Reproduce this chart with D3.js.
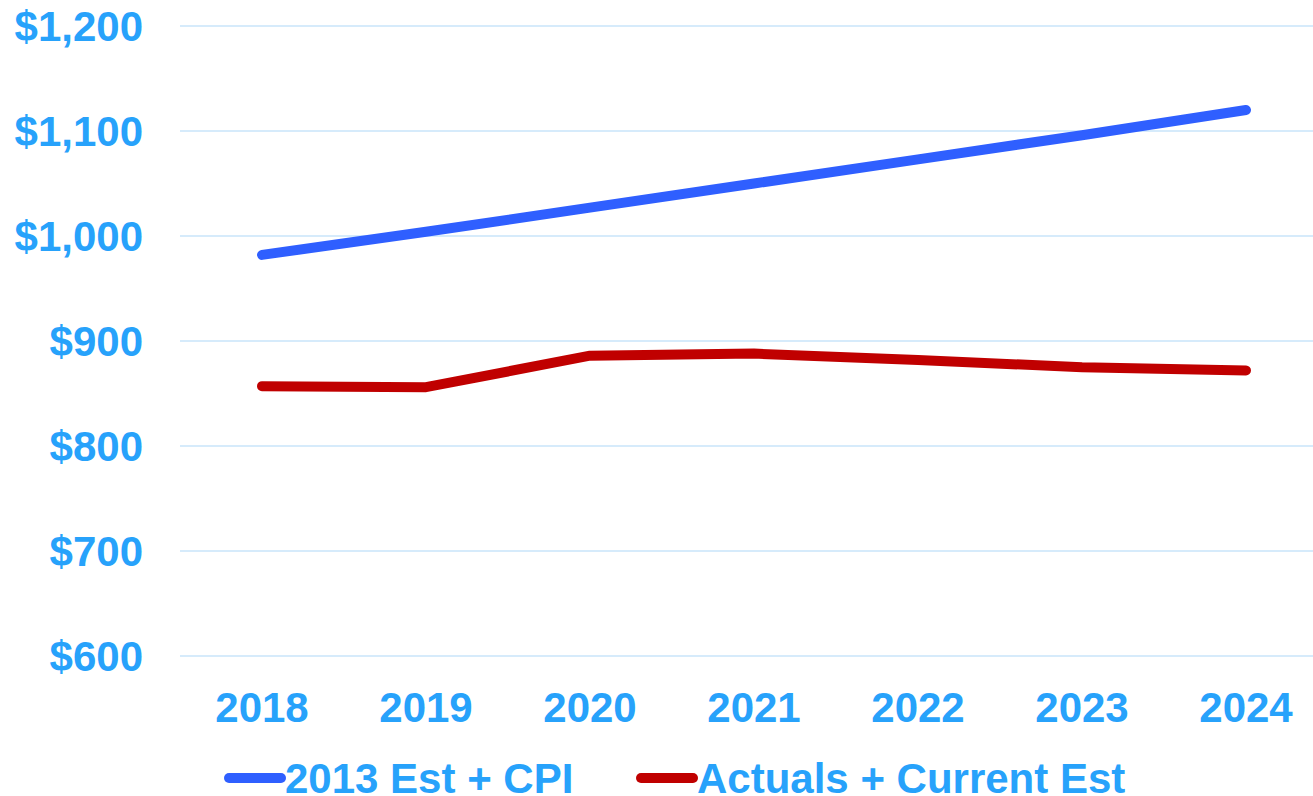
<!DOCTYPE html>
<html>
<head>
<meta charset="utf-8">
<script src="https://cdn.jsdelivr.net/npm/d3@7"></script>
<style>
  html, body { margin: 0; padding: 0; background: #fff; }
  svg { display: block; font-family: "Liberation Sans", Arial, sans-serif; font-weight: bold; }
</style>
</head>
<body>
<div id="chart"></div>
<script>
const years = ["2018", "2019", "2020", "2021", "2022", "2023", "2024"];
const estCpi = [982, 1004, 1027, 1050, 1073, 1096, 1120];
const actuals = [857, 856, 886, 888, 882, 875, 872];
const yTicks = [600, 700, 800, 900, 1000, 1100, 1200];
const seriesNames = ["2013 Est + CPI", "Actuals + Current Est"];

const width = 1313, height = 796;
const textColor = "#27a2fb";

const svg = d3.select("#chart").append("svg")
    .attr("width", width)
    .attr("height", height);

const x = d3.scalePoint().domain(years).range([180, 1328]).padding(0.5);
const y = d3.scaleLinear().domain([600, 1200]).range([656, 26]);

// gridlines
svg.append("g")
    .selectAll("line")
    .data(yTicks)
    .join("line")
    .attr("x1", 180).attr("x2", width)
    .attr("y1", d => y(d)).attr("y2", d => y(d))
    .attr("stroke", "#d6ebfb")
    .attr("stroke-width", 2);

// y labels
const fmt = d3.format(",");
svg.append("g")
    .selectAll("text")
    .data(yTicks)
    .join("text")
    .attr("x", 143)
    .attr("y", d => y(d))
    .attr("dy", "0.36em")
    .attr("text-anchor", "end")
    .attr("fill", textColor)
    .style("font-size", "42px")
    .text(d => "$" + fmt(d));

// x labels
svg.append("g")
    .selectAll("text")
    .data(years)
    .join("text")
    .attr("x", d => x(d))
    .attr("y", 722)
    .attr("text-anchor", "middle")
    .attr("fill", textColor)
    .style("font-size", "42px")
    .text(d => d);

const line = d3.line()
    .x((d, i) => x(years[i]))
    .y(d => y(d));

const series = [
    { name: seriesNames[0], values: estCpi, color: "#2f5fff" },
    { name: seriesNames[1], values: actuals, color: "#c00000" }
];

svg.append("g")
    .selectAll("path")
    .data(series)
    .join("path")
    .attr("d", d => line(d.values))
    .attr("fill", "none")
    .attr("stroke", d => d.color)
    .attr("stroke-width", 10)
    .attr("stroke-linecap", "round")
    .attr("stroke-linejoin", "round");

// legend
const legendX = [229, 641];
const lg = svg.append("g")
    .selectAll("g")
    .data(series)
    .join("g")
    .attr("transform", (d, i) => `translate(${legendX[i]},778)`);

lg.append("line")
    .attr("x1", 0).attr("x2", 52)
    .attr("stroke", d => d.color)
    .attr("stroke-width", 10)
    .attr("stroke-linecap", "round");

lg.append("text")
    .attr("x", 56)
    .attr("dy", "0.36em")
    .attr("fill", textColor)
    .style("font-size", "42px")
    .text(d => d.name);
</script>
</body>
</html>
